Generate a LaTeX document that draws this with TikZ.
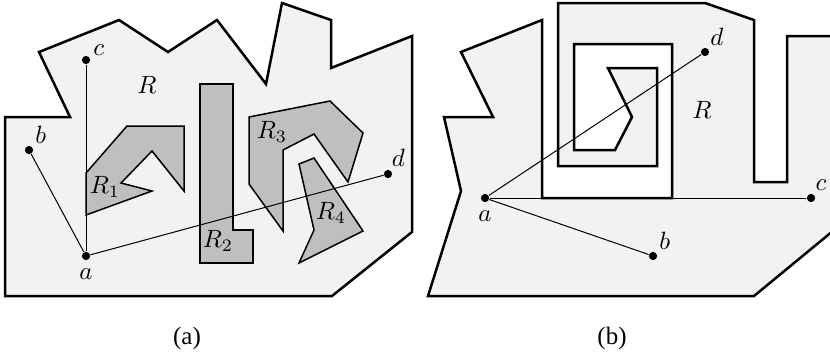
\documentclass[tikz,border=0pt]{standalone}
\usepackage{fontspec}
\setmainfont{Liberation Serif}
\usetikzlibrary{positioning}

\begin{document}
\begin{tikzpicture}[
  x=0.4pt, y=-0.4pt,
  region/.style={draw, line width=1pt, line join=miter, fill=black!5},
  hole/.style={draw, line width=0.6pt, fill=black!25},
  seg/.style={line width=0.4pt},
  pt/.style={circle, fill, inner sep=0pt, minimum size=3.3pt},
  every label/.style={inner sep=1pt},
  caption/.style={font=\rmfamily\normalsize}
]
\useasboundingbox (0,0) rectangle (830,355);

% Panel (a): region R with holes
\draw[region] (39,52) -- (119,20) -- (168,52) -- (217,20) -- (266,84) -- (282,3)
  -- (331,20) -- (331,68) -- (412,36) -- (412,232) -- (332,296) -- (5,296)
  -- (5,117) -- (70,117) -- cycle;
\draw[hole] (86,173) -- (127,126) -- (184,126) -- (184,191) -- (152,151)
  -- (121,183) -- (152,191) -- (86,215) -- cycle;
\draw[hole] (200,84) -- (233,84) -- (233,230) -- (253,230) -- (253,263) -- (200,263) -- cycle;
\draw[hole] (249,117) -- (330,101) -- (363,133) -- (348,182) -- (314,134)
  -- (283,150) -- (283,231) -- (249,184) -- cycle;
\draw[hole] (299,164) -- (314,158) -- (363,231) -- (299,263) -- (314,230) -- cycle;

\node at (147,85) (Ra) {$R$};
\node at (105,187) (R1) {$R_1$};
\node at (218,241) (R2) {$R_2$};
\node at (272,132) (R3) {$R_3$};
\node at (331,213) (R4) {$R_4$};

\node[pt, label={[label distance=2pt]below:$a$}] (pa) at (86,256) {};
\node[pt, label={above right:$b$}] (pb) at (29,150) {};
\node[pt, label={20:$c$}] (pc) at (86,60) {};
\node[pt, label={80:$d$}] (pd) at (388,174) {};

\draw[seg] (pa) -- (pb);
\draw[seg] (pa) -- (pc);
\draw[seg] (pa) -- (pd);

% Panel (b): spiral region, cut at the right edge
\begin{scope}
\clip (0,0) rectangle (830,355);
\draw[region] (461,52) -- (542,20) -- (542,198) -- (672,198) -- (672,44)
  -- (574,44) -- (574,150) -- (615,150) -- (632,117) -- (608,68) -- (657,68)
  -- (657,166) -- (558,166) -- (558,3) -- (705,3) -- (754,20) -- (754,182)
  -- (787,182) -- (787,36) -- (845,36) -- (845,221) -- (754,296) -- (428,296)
  -- (461,191) -- (444,117) -- (493,117) -- cycle;
\end{scope}

\node at (702,110) (Rb) {$R$};

\node[pt, label={[label distance=2pt]below:$a$}] (qa) at (485,198) {};
\node[pt, label={above right:$b$}] (qb) at (653,256) {};
\node[pt, label={70:$c$}] (qc) at (811,198) {};
\node[pt, label={60:$d$}] (qd) at (705,52) {};

\draw[seg] (qa) -- (qb);
\draw[seg] (qa) -- (qc);
\draw[seg] (qa) -- (qd);

% Captions
\node[caption] (capa) at (187,338) {(a)};
\node[caption] (capb) at (612,338) {(b)};

\end{tikzpicture}
\end{document}
